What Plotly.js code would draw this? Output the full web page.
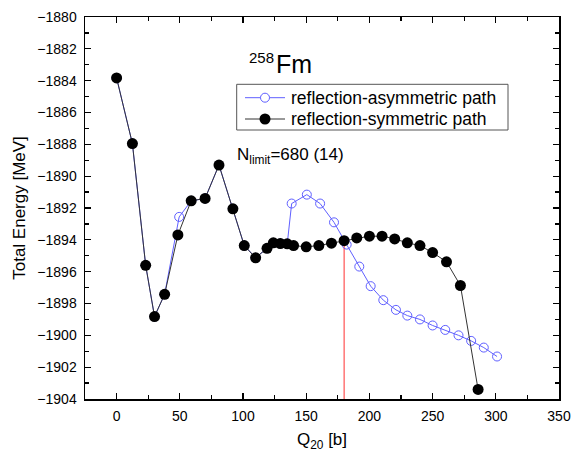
<!DOCTYPE html>
<html>
<head>
<meta charset="utf-8">
<script src="https://cdn.plot.ly/plotly-3.0.1.min.js"></script>
<style>
  html, body { margin: 0; padding: 0; background: #fff; }
  #chart { width: 574px; height: 455px; }
</style>
</head>
<body>
<div id="chart"></div>
<script>
// Total energy of 258Fm along the fission path (Q20 in barns, energy in MeV)
const symQ = [0, 12.5, 23, 30, 38, 48.5, 59, 70, 81, 92, 101, 110, 119, 124, 129.5, 135, 140,
  150, 160, 170, 180, 190, 200, 210, 220, 230, 240, 250, 261, 272, 286];
const symE = [-1883.83, -1887.95, -1895.6, -1898.82, -1897.42, -1893.69, -1891.55, -1891.4,
  -1889.3, -1892.05, -1894.36, -1895.13, -1894.53, -1894.19, -1894.23, -1894.25, -1894.36,
  -1894.44, -1894.36, -1894.21, -1894.05, -1893.88, -1893.77, -1893.77, -1893.94, -1894.19,
  -1894.36, -1894.8, -1895.38, -1896.87, -1903.4];

const asymQ = [0, 12.5, 23, 30, 38, 49.5, 59, 70, 81, 92, 101, 110, 119, 124, 129.5, 135,
  138.5, 150.5, 161, 172, 182, 192, 201, 211, 221, 230, 240, 250, 260, 270.5, 280.5, 290.5, 301];
const asymE = [-1883.83, -1887.95, -1895.6, -1898.82, -1897.42, -1892.56, -1891.55, -1891.4,
  -1889.3, -1892.05, -1894.36, -1895.13, -1894.53, -1894.19, -1894.23, -1894.25,
  -1891.72, -1891.16, -1891.72, -1892.9, -1894.3, -1895.68, -1896.91, -1897.79, -1898.4,
  -1898.76, -1899.0, -1899.38, -1899.66, -1900.0, -1900.35, -1900.77, -1901.33];

const seriesNames = ['reflection-asymmetric path', 'reflection-symmetric path'];

// Branching point of the two paths, marked with a vertical red line
const splitQ = 180;
const yMin = -1904, yMax = -1880;
const xMin = -25, xMax = 350;
const splitE = symE[symQ.indexOf(splitQ)];

const font = 'Arial, "Liberation Sans", sans-serif';
const blue = 'rgb(95,95,255)';

// Plot-area geometry, used to place the hand-built legend box in paper units
const W = 574, H = 455;
const M = { l: 85, r: 15, t: 17, b: 56 };
const PW = W - M.l - M.r, PH = H - M.t - M.b;
const px = v => (v - M.l) / PW;
const py = v => (H - M.b - v) / PH;

const traces = [
  {
    x: [splitQ, splitQ], y: [splitE, yMin],
    mode: 'lines', line: { color: '#ff3030', width: 1 },
    showlegend: false, hoverinfo: 'skip'
  },
  {
    x: asymQ, y: asymE, name: seriesNames[0],
    mode: 'lines+markers',
    line: { color: blue, width: 1 },
    marker: { symbol: 'circle-open', size: 9, color: blue, line: { width: 1 } }
  },
  {
    x: symQ, y: symE, name: seriesNames[1],
    mode: 'lines+markers',
    line: { color: '#333333', width: 1 },
    marker: { symbol: 'circle', size: 11, color: '#000000' }
  }
];

const axisCommon = {
  showline: true, linecolor: '#000', linewidth: 1.5, mirror: 'ticks',
  ticks: 'inside', ticklen: 6, tickwidth: 1.2, tickcolor: '#000',
  showgrid: false, zeroline: false,
  tickfont: { family: font, size: 14, color: '#000' }
};

// Legend: framed box with a line+marker key per series
const legBox = { x0: 236.7, x1: 508, y0: 84.3, y1: 130 };
const rowY = [97.7, 119];
const keyX = [245, 285], keyMarkX = 265, textX = 289;

const shapes = [
  { type: 'rect', xref: 'paper', yref: 'paper',
    x0: px(legBox.x0), x1: px(legBox.x1), y0: py(legBox.y0), y1: py(legBox.y1),
    line: { color: '#555', width: 1 }, fillcolor: '#fff', layer: 'below' },
  { type: 'line', xref: 'paper', yref: 'paper', x0: px(keyX[0]), x1: px(keyX[1]),
    y0: py(rowY[0]), y1: py(rowY[0]), line: { color: blue, width: 1 } },
  { type: 'line', xref: 'paper', yref: 'paper', x0: px(keyX[0]), x1: px(keyX[1]),
    y0: py(rowY[1]), y1: py(rowY[1]), line: { color: '#333', width: 1 } },
  { type: 'circle', xref: 'paper', yref: 'paper', xsizemode: 'pixel', ysizemode: 'pixel',
    xanchor: px(keyMarkX), yanchor: py(rowY[0]), x0: -4.5, x1: 4.5, y0: -4.5, y1: 4.5,
    line: { color: blue, width: 1 }, fillcolor: '#fff' },
  { type: 'circle', xref: 'paper', yref: 'paper', xsizemode: 'pixel', ysizemode: 'pixel',
    xanchor: px(keyMarkX), yanchor: py(rowY[1]), x0: -5.5, x1: 5.5, y0: -5.5, y1: 5.5,
    line: { color: '#000', width: 0 }, fillcolor: '#000' }
];

const layout = {
  width: W, height: H,
  margin: M,
  paper_bgcolor: '#fff', plot_bgcolor: '#fff',
  showlegend: false,
  xaxis: Object.assign({}, axisCommon, {
    range: [xMin, xMax], tickvals: [0, 50, 100, 150, 200, 250, 300, 350],
    ticklabelstandoff: 4,
    minor: { dtick: 25, tick0: 0, ticks: 'inside', ticklen: 4, tickwidth: 1.2, tickcolor: '#000' },
    title: { text: 'Q<sub>20</sub> [b]', font: { family: font, size: 17, color: '#000' }, standoff: 10 }
  }),
  yaxis: Object.assign({}, axisCommon, {
    range: [yMin, yMax], dtick: 2, tick0: -1880,
    ticklabelstandoff: 4,
    minor: { dtick: 1, ticks: 'inside', ticklen: 4, tickwidth: 1.2, tickcolor: '#000' },
    title: { text: 'Total Energy [MeV]', font: { family: font, size: 17, color: '#000' }, standoff: 7 }
  }),
  shapes: shapes,
  annotations: [
    { xref: 'paper', yref: 'paper', x: px(textX), y: py(rowY[0]), xanchor: 'left', yanchor: 'middle',
      text: seriesNames[0], showarrow: false, font: { family: font, size: 17.5, color: '#000' } },
    { xref: 'paper', yref: 'paper', x: px(textX), y: py(rowY[1]), xanchor: 'left', yanchor: 'middle',
      text: seriesNames[1], showarrow: false, font: { family: font, size: 17.5, color: '#000' } },
    { xref: 'paper', yref: 'paper', x: px(247), y: py(58), xanchor: 'left', yanchor: 'middle',
      text: '258', showarrow: false, font: { family: font, size: 15, color: '#000' } },
    { xref: 'paper', yref: 'paper', x: px(274), y: py(64), xanchor: 'left', yanchor: 'middle',
      text: 'Fm', showarrow: false, font: { family: font, size: 25, color: '#000' } },
    { xref: 'paper', yref: 'paper', x: px(235), y: py(156), xanchor: 'left', yanchor: 'middle',
      text: 'N<sub>limit</sub>=680 (14)', showarrow: false, font: { family: font, size: 17, color: '#000' } }
  ]
};

Plotly.newPlot('chart', traces, layout, { displayModeBar: false, staticPlot: true });
</script>
</body>
</html>
